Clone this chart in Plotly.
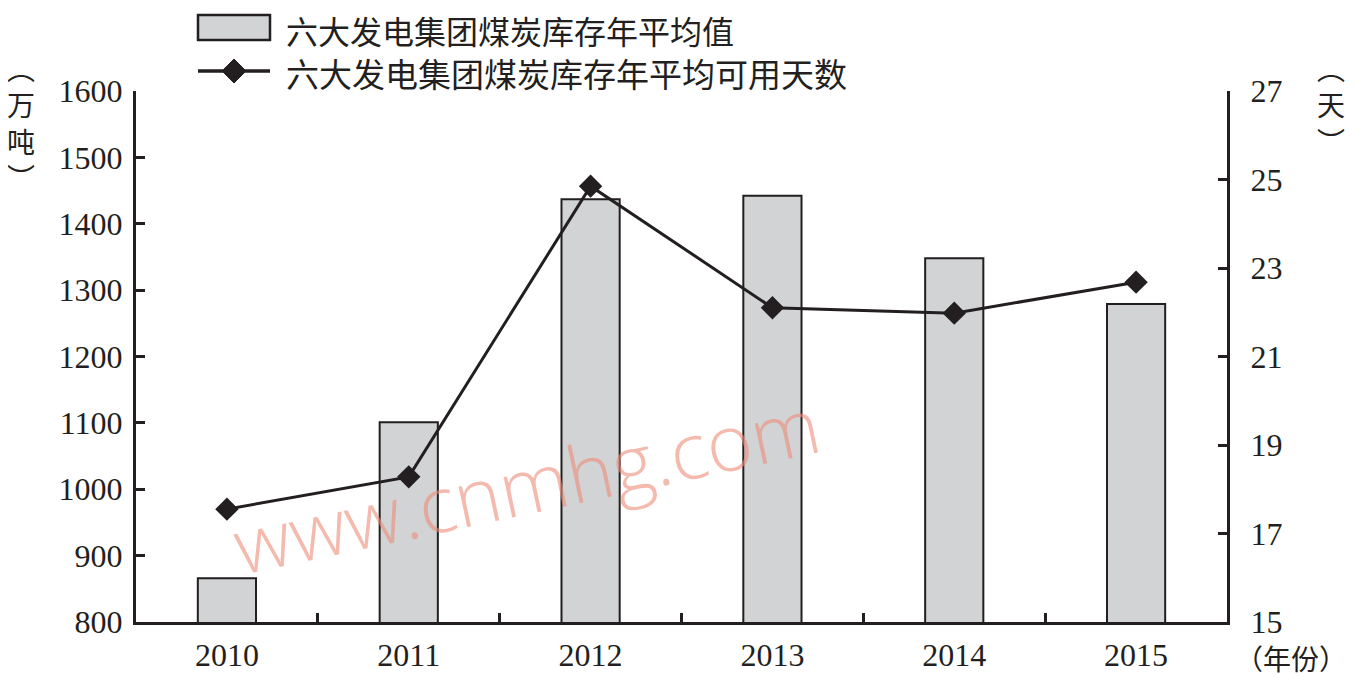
import plotly.graph_objects as go

years = ["2010", "2011", "2012", "2013", "2014", "2015"]
stock = [866, 1101, 1437, 1442, 1348, 1279]
days = [17.55, 18.28, 24.85, 22.1, 21.98, 22.68]

bar_name = "六大发电集团煤炭库存年平均值"
line_name = "六大发电集团煤炭库存年平均可用天数"

NUMFONT = "Liberation Serif, Times New Roman, serif"
CJK = "Noto Sans CJK SC"
INK = "#231f20"
BARFILL = "#d1d3d4"

# page body has an 8px default margin; work in screen pixels and convert
OFF = 8
FIG_W, FIG_H = 1356 - OFF, 677 - OFF
# plot-area geometry in screen pixels
L, R, T, B = 136, 1227, 91, 622
W, H = R - L, B - T


def px(x):
    return (x - L) / W


def py(y):
    return (B - y) / H


fig = go.Figure()
fig.add_trace(go.Bar(
    x=years, y=stock, name=bar_name,
    marker=dict(color=BARFILL, line=dict(color=INK, width=2)),
    yaxis="y", showlegend=False,
))
fig.add_trace(go.Scatter(
    x=years, y=days, name=line_name, mode="lines+markers",
    line=dict(color=INK, width=3),
    marker=dict(symbol="diamond", size=18, color=INK),
    yaxis="y2", showlegend=False,
))

axis_common = dict(
    showline=True, linecolor=INK, linewidth=3,
    ticks="inside", ticklen=9, tickwidth=3, tickcolor=INK,
    showgrid=False, zeroline=False, automargin=False,
    tickfont=dict(size=32, family=NUMFONT, color=INK),
)

fig.update_layout(
    width=FIG_W, height=FIG_H,
    margin=dict(l=L - OFF, r=1356 - R, t=T - OFF, b=677 - B, autoexpand=False),
    paper_bgcolor="white", plot_bgcolor="white",
    font=dict(family=NUMFONT, size=30, color=INK),
    bargap=0.68,
    showlegend=False,
    xaxis=dict(type="category", tickson="boundaries", ticklabelstandoff=3, **axis_common),
    yaxis=dict(range=[800, 1600], dtick=100, ticklabelstandoff=4, **axis_common),
    yaxis2=dict(range=[15, 27], tick0=15, dtick=2, overlaying="y", side="right",
                ticklabelstandoff=14, **axis_common),
)

# custom legend
shapes = [
    dict(type="rect", xref="paper", yref="paper",
         x0=px(198), x1=px(270), y0=py(40), y1=py(15),
         fillcolor=BARFILL, line=dict(color=INK, width=2.5)),
    dict(type="line", xref="paper", yref="paper",
         x0=px(198), x1=px(270), y0=py(71), y1=py(71),
         line=dict(color=INK, width=3.5)),
    dict(type="path", xref="paper", yref="paper",
         xsizemode="pixel", ysizemode="pixel",
         xanchor=px(234), yanchor=py(71),
         path="M -12,0 L 0,12 L 12,0 L 0,-12 Z",
         fillcolor=INK, line=dict(color=INK, width=1)),
]
fig.update_layout(shapes=shapes)

fig.add_annotation(text=bar_name, xref="paper", yref="paper",
                   x=px(284), y=py(30), xanchor="left", yanchor="middle",
                   showarrow=False, font=dict(size=32, family=CJK, color=INK))
fig.add_annotation(text=line_name, xref="paper", yref="paper",
                   x=px(284), y=py(73), xanchor="left", yanchor="middle",
                   showarrow=False, font=dict(size=33, family=CJK, color=INK))

# axis unit labels
fig.add_annotation(text="︵<br>万<br>吨<br>︶", xref="paper", yref="paper",
                   x=px(21), y=py(46), xanchor="center", yanchor="top", showarrow=False,
                   font=dict(size=28, family=CJK, color=INK))
fig.add_annotation(text="︵<br>天<br>︶", xref="paper", yref="paper",
                   x=px(1331), y=py(46), xanchor="center", yanchor="top", showarrow=False,
                   font=dict(size=28, family=CJK, color=INK))
fig.add_annotation(text="（年份）", xref="paper", yref="paper",
                   x=px(1291), y=py(658), xanchor="center", yanchor="middle", showarrow=False,
                   font=dict(size=28, family=CJK, color=INK))

# watermark
fig.add_annotation(text="www.cnmhg.com", xref="paper", yref="paper",
                   x=px(526), y=py(484), xanchor="center", yanchor="middle", showarrow=False,
                   textangle=-12,
                   font=dict(size=78, family="Open Sans", weight=300,
                             color="rgba(238,140,120,0.6)"))

fig.write_html("out.html")
